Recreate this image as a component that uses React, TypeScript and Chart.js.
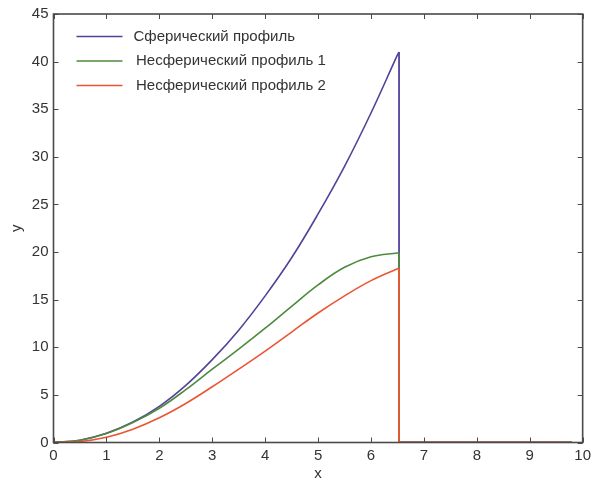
import { useEffect, useRef } from "react";
import { Chart, registerables } from "chart.js";

Chart.register(...registerables);

// Sample positions along x and the three profiles y(x)
const xValues = [0, 0.5, 1, 1.5, 2, 2.5, 3, 3.5, 4, 4.5, 5, 5.5, 6, 6.5, 6.53];
const sphericalProfile = [0, 0.24, 0.96, 2.15, 3.8, 6.0, 8.7, 11.8, 15.4, 19.4, 24.0, 29.0, 34.6, 40.7, 41.0];
const asphericProfile1 = [0, 0.24, 0.95, 2.1, 3.6, 5.55, 7.7, 9.8, 12.0, 14.3, 16.55, 18.4, 19.5, 19.9, 19.9];
const asphericProfile2 = [0, 0.1, 0.55, 1.4, 2.6, 4.1, 5.85, 7.7, 9.6, 11.6, 13.6, 15.4, 17.0, 18.25, 18.3];
const zeroLineEnd = 9.8;

const seriesLabels = ["Сферический профиль", "Несферический профиль 1", "Несферический профиль 2"];
const seriesColors = ["#52429a", "#4e8a3e", "#ea5634"];
const seriesValues = [sphericalProfile, asphericProfile1, asphericProfile2];

const xTicks = [0, 1, 2, 3, 4, 5, 6, 7, 8, 9, 10];
const yTicks = [0, 5, 10, 15, 20, 25, 30, 35, 40, 45];

const FONT = "'Liberation Sans', Arial, Helvetica, sans-serif";
const AXIS_COLOR = "#4a4a4a";
const TEXT_COLOR = "#333333";

// Box frame with inward ticks on all four sides, plus the legend inside the plot
const framePlugin = {
  id: "frameAndLegend",
  afterDraw(chart: any) {
    const { ctx, chartArea } = chart;
    const { left, right, top, bottom } = chartArea;
    const xs = chart.scales.x;
    const ys = chart.scales.y;
    const tick = 5;
    ctx.save();
    ctx.strokeStyle = AXIS_COLOR;
    ctx.lineWidth = 1;
    ctx.beginPath();
    for (const v of xTicks) {
      const px = Math.round(xs.getPixelForValue(v)) + 0.5;
      ctx.moveTo(px, bottom);
      ctx.lineTo(px, bottom - tick);
      ctx.moveTo(px, top);
      ctx.lineTo(px, top + tick);
    }
    for (const v of yTicks) {
      const py = Math.round(ys.getPixelForValue(v)) + 0.5;
      ctx.moveTo(left, py);
      ctx.lineTo(left + tick, py);
      ctx.moveTo(right, py);
      ctx.lineTo(right - tick, py);
    }
    ctx.stroke();
    ctx.lineWidth = 1.6;
    ctx.strokeRect(left, top, right - left, bottom - top);

    // legend
    ctx.font = `15px ${FONT}`;
    ctx.textBaseline = "middle";
    ctx.textAlign = "left";
    seriesLabels.forEach((label, i) => {
      const y = top + 22.5 + i * 24.5;
      ctx.strokeStyle = seriesColors[i];
      ctx.lineWidth = 1.6;
      ctx.beginPath();
      ctx.moveTo(left + 23, y);
      ctx.lineTo(left + 69, y);
      ctx.stroke();
      ctx.fillStyle = TEXT_COLOR;
      ctx.fillText(label, left + (i === 0 ? 80 : 82.5), y);
    });
    ctx.restore();
  },
};

export default function App() {
  const canvasRef = useRef<HTMLCanvasElement | null>(null);

  useEffect(() => {
    const canvas = canvasRef.current;
    if (!canvas) return;

    const datasets: any[] = [];
    seriesValues.forEach((values, i) => {
      const last = values.length - 1;
      const order = seriesValues.length - 1 - i;
      datasets.push({
        label: seriesLabels[i],
        data: xValues.map((x, k) => ({ x, y: values[k] })),
        borderColor: seriesColors[i],
        borderWidth: 1.6,
        pointRadius: 0,
        fill: false,
        tension: 0.4,
        order,
      });
      // vertical drop at the edge, then the zero line
      datasets.push({
        label: seriesLabels[i] + " ",
        data: [
          { x: xValues[last], y: values[last] },
          { x: xValues[last], y: 0 },
          { x: zeroLineEnd, y: 0 },
        ],
        borderColor: seriesColors[i],
        borderWidth: 1.8,
        pointRadius: 0,
        fill: false,
        tension: 0,
        order,
      });
    });

    const chart = new Chart(canvas, {
      type: "line",
      data: { datasets },
      options: {
        animation: false,
        responsive: false,
        maintainAspectRatio: false,
        layout: { padding: { top: 12.5, right: 7, left: 0, bottom: 0 } },
        plugins: {
          legend: { display: false },
          tooltip: { enabled: false },
        },
        scales: {
          x: {
            type: "linear",
            min: 0,
            max: 10,
            afterBuildTicks: (scale: any) => {
              scale.ticks = xTicks.map((v) => ({ value: v }));
            },
            afterFit: (scale: any) => {
              scale.height = 40.5;
            },
            grid: { display: false, drawTicks: false },
            border: { display: false },
            ticks: {
              color: TEXT_COLOR,
              font: { family: FONT, size: 15 },
              padding: 4,
              maxRotation: 0,
            },
            title: {
              display: true,
              text: "x",
              color: TEXT_COLOR,
              font: { family: FONT, size: 15 },
              padding: { top: 0, bottom: 0 },
            },
          },
          y: {
            type: "linear",
            min: 0,
            max: 45,
            afterBuildTicks: (scale: any) => {
              scale.ticks = yTicks.map((v) => ({ value: v }));
            },
            afterFit: (scale: any) => {
              scale.width = 53.5;
            },
            grid: { display: false, drawTicks: false },
            border: { display: false },
            ticks: {
              color: TEXT_COLOR,
              font: { family: FONT, size: 15 },
              padding: 5,
            },
            title: {
              display: true,
              text: "y",
              color: TEXT_COLOR,
              font: { family: FONT, size: 15 },
              padding: { top: 8, bottom: 0 },
            },
          },
        },
      },
      plugins: [framePlugin],
    });

    return () => chart.destroy();
  }, []);

  return (
    <div style={{ position: "fixed", left: 0, top: 0, width: 595, height: 483, background: "#ffffff" }}>
      <canvas ref={canvasRef} width={595} height={483} style={{ display: "block" }} />
    </div>
  );
}
